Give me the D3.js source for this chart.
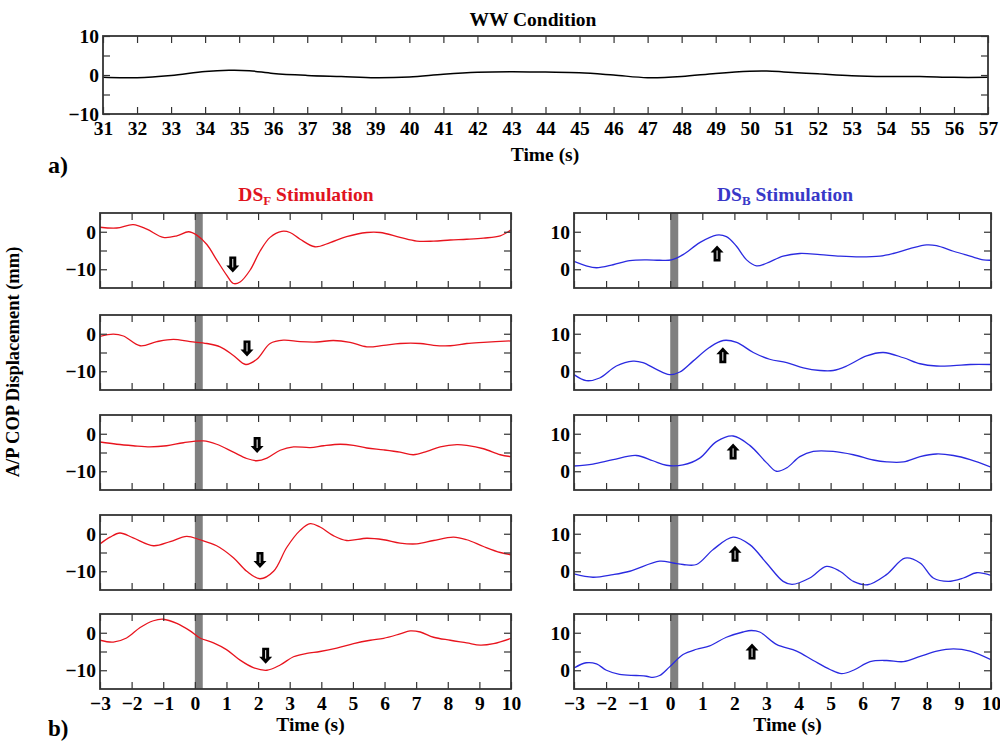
<!DOCTYPE html>
<html><head><meta charset="utf-8">
<script src="https://cdn.jsdelivr.net/npm/d3@7"></script>
<style>
body{margin:0;background:#fff;}
svg{display:block;font-family:"Liberation Serif","Times New Roman",serif;font-weight:bold;}
</style></head><body>
<svg id="c" width="1000" height="742"></svg>
<script>
// ---------- data ----------
const wwTicks = d3.range(31, 58);
const ww = [[31,-0.6],[31.5,-0.7],[32,-0.7],[33,-0.1],[34,0.9],[34.7,1.2],[35.3,1.1],[36,0.4],[37,-0.1],[38,-0.4],[39,-0.7],[40,-0.5],[41,0.2],[42,0.7],[43,0.85],[44,0.75],[45,0.6],[46,0.0],[47,-0.7],[48,-0.4],[49,0.4],[50,0.95],[50.5,1.0],[51,0.8],[52,0.3],[53,-0.2],[54,-0.4],[55,-0.4],[56,-0.6],[57,-0.6]];

const stimTicks = d3.range(-3, 11);
const dsfYTicks = [-10, -5, 0];
const dsfYLabels = [-10, 0];
const dsbYTicks = [0, 5, 10];
const dsbYLabels = [0, 10];

const dsf1 = [[-3,1.2],[-2.47,1.0],[-1.95,1.9],[-1.52,0.7],[-1.0,-1.5],[-0.57,-1.1],[-0.2,0.0],[0.06,-0.9],[0.38,-3.4],[0.69,-7.5],[1.0,-11.5],[1.22,-13.8],[1.43,-13.4],[1.75,-10.2],[2.06,-5.2],[2.38,-1.5],[2.75,0.1],[3.01,-0.2],[3.33,-2.0],[3.8,-4.0],[4.28,-2.9],[4.8,-1.3],[5.44,-0.2],[5.86,-0.2],[6.49,-1.5],[7.02,-2.5],[7.55,-2.5],[8.08,-2.2],[8.6,-2.0],[9.13,-1.7],[9.66,-1.1],[10,0.5]];
const dsf2 = [[-3,-0.7],[-2.58,-0.1],[-2.26,-0.6],[-1.73,-3.2],[-1.2,-2.1],[-0.68,-1.5],[-0.15,-2.1],[0.38,-2.6],[0.8,-3.5],[1.22,-5.8],[1.61,-8.2],[1.96,-6.8],[2.38,-2.6],[2.8,-1.7],[3.33,-2.1],[3.86,-2.2],[4.38,-1.8],[4.91,-2.3],[5.44,-3.5],[5.97,-3.1],[6.49,-2.6],[7.13,-2.6],[7.55,-3.1],[8.08,-3.2],[8.6,-2.6],[9.13,-2.3],[10,-1.9]];
const dsf3 = [[-3,-2.2],[-2.47,-2.8],[-1.95,-3.2],[-1.42,-3.5],[-0.89,-3.2],[-0.36,-2.4],[0.27,-1.9],[0.69,-2.8],[1.22,-4.9],[1.64,-6.6],[1.96,-7.2],[2.28,-6.5],[2.7,-4.4],[3.12,-3.5],[3.65,-3.7],[4.07,-3.2],[4.6,-2.8],[5.02,-3.1],[5.44,-3.8],[5.97,-4.3],[6.49,-4.9],[6.91,-5.6],[7.34,-4.7],[7.76,-3.5],[8.29,-2.9],[8.6,-3.1],[9.13,-4.0],[9.66,-5.6],[10,-6.1]];
const dsf4 = [[-3,-2.7],[-2.68,-0.9],[-2.37,0.2],[-1.95,-1.1],[-1.31,-3.2],[-0.78,-2.1],[-0.26,-0.7],[0.16,-1.6],[0.69,-3.2],[1.22,-6.4],[1.64,-10],[2.06,-12.0],[2.49,-10],[2.91,-3.6],[3.33,0.9],[3.65,2.7],[3.96,1.8],[4.38,-0.5],[4.8,-1.8],[5.44,-1.2],[5.97,-1.6],[6.49,-2.5],[7.02,-2.7],[7.55,-1.8],[8.18,-0.9],[8.6,-1.6],[9.13,-3.4],[9.66,-5.0],[10,-5.6]];
const dsf5 = [[-3,-2.0],[-2.58,-2.5],[-2.16,-1.4],[-1.73,1.4],[-1.31,3.2],[-1.0,3.6],[-0.57,2.5],[-0.15,0.5],[0.16,-1.4],[0.59,-2.7],[1.0,-4.5],[1.43,-7.3],[1.85,-9.3],[2.28,-10],[2.7,-8.6],[3.12,-6.4],[3.54,-5.5],[3.96,-5.0],[4.49,-4.1],[5.02,-2.9],[5.55,-2.0],[5.97,-1.5],[6.49,-0.3],[6.81,0.5],[7.13,0.2],[7.55,-1.2],[8.08,-2.0],[8.6,-2.7],[9.03,-3.3],[9.45,-2.9],[10,-1.5]];

const dsb1 = [[-3,2.1],[-2.62,0.9],[-2.3,0.4],[-1.78,1.2],[-1.26,2.3],[-0.74,2.5],[-0.33,2.4],[0.04,2.5],[0.4,3.9],[0.92,7.1],[1.44,9.1],[1.75,8.7],[2.06,6.2],[2.38,2.5],[2.69,0.9],[3.0,1.6],[3.52,3.5],[4.04,4.2],[4.67,3.9],[5.29,3.5],[5.91,3.3],[6.54,3.5],[6.95,4.2],[7.47,5.5],[7.99,6.5],[8.3,6.3],[8.83,4.8],[9.35,3.5],[9.76,2.5],[10,2.4]];
const dsb2 = [[-3,-0.9],[-2.62,-2.5],[-2.2,-1.8],[-1.68,1.4],[-1.16,2.7],[-0.85,2.3],[-0.43,0.5],[-0.02,-0.9],[0.3,-0.2],[0.71,2.7],[1.23,6.4],[1.65,8.2],[2.07,7.7],[2.59,5.0],[3.1,3.2],[3.63,2.3],[4.15,0.9],[4.67,0.2],[5.08,0.2],[5.5,1.4],[6.12,4.1],[6.64,5.0],[7.27,3.6],[7.79,2.0],[8.3,1.4],[8.83,1.5],[9.35,1.8],[10,1.8]];
const dsb3 = [[-3,1.4],[-2.41,1.9],[-1.78,3.1],[-1.06,4.2],[-0.54,2.8],[-0.12,1.6],[0.4,1.7],[0.92,3.5],[1.44,7.9],[1.96,9.4],[2.48,6.9],[3.0,2.3],[3.31,0.0],[3.63,0.9],[4.04,3.9],[4.46,5.3],[5.08,5.3],[5.71,4.4],[6.33,3.0],[6.75,2.5],[7.27,2.5],[7.79,3.9],[8.3,4.6],[8.83,4.2],[9.35,3.1],[10,1.1]];
const dsb4 = [[-3,-0.7],[-2.41,-1.6],[-1.78,-0.9],[-1.26,0.0],[-0.33,2.7],[0.09,2.2],[0.4,1.8],[0.82,1.8],[1.34,5.8],[1.96,9.1],[2.48,7.1],[3.0,2.2],[3.52,-2.7],[3.8,-3.5],[4.35,-1.8],[4.87,1.3],[5.29,0.0],[5.71,-2.7],[6.15,-3.6],[6.74,-0.9],[7.32,3.5],[7.79,2.2],[8.2,-1.8],[8.67,-2.7],[9.14,-1.8],[9.55,-0.4],[10,-1.1]];
const dsb5 = [[-3,0.6],[-2.62,2.0],[-2.3,1.7],[-1.99,0.0],[-1.58,-1.1],[-1.06,-1.4],[-0.74,-1.6],[-0.54,-1.9],[-0.33,-1.4],[-0.02,0.9],[0.4,4.2],[0.82,5.6],[1.23,6.5],[1.75,8.8],[2.27,10.2],[2.53,10.6],[2.79,10.2],[3.31,6.9],[3.94,5.1],[4.46,2.6],[4.98,0.2],[5.34,-0.9],[5.71,0.0],[6.23,2.3],[6.75,2.6],[7.27,2.3],[7.79,3.7],[8.31,5.1],[8.83,5.7],[9.35,5.1],[10,2.8]];

// arrow positions [time, value] (centre of arrow)
const dsfArrows = [[1.2,-8.7],[1.65,-3.9],[1.97,-3.0],[2.06,-7.0],[2.24,-6.1]];
const dsbArrows = [[1.46,4.2],[1.64,4.3],[1.96,5.3],[2.02,4.7],[2.55,5.0]];
const stimOnset = [0, 0.25];

// ---------- drawing ----------
const svg = d3.select("#c");
const FS = 19.5;
const frameCol = "#333";

function drawFrame(g, x, y, xTicks, yTicks, yLabels, showX) {
  const [x0, x1] = x.range();
  const [y1, y0] = y.range();
  const tl = 7;
  const bottom = g.append("g").attr("transform", `translate(0,${y1})`)
    .call(d3.axisBottom(x).tickValues(xTicks).tickSize(-tl).tickPadding(7)
      .tickFormat(showX ? d3.format("d") : () => ""));
  const top = g.append("g").attr("transform", `translate(0,${y0})`)
    .call(d3.axisTop(x).tickValues(xTicks).tickSize(-tl).tickFormat(() => ""));
  const left = g.append("g").attr("transform", `translate(${x0},0)`)
    .call(d3.axisLeft(y).tickValues(yTicks).tickSize(-tl).tickPadding(4)
      .tickFormat(d => yLabels.includes(d) ? d3.format("d")(d) : ""));
  const right = g.append("g").attr("transform", `translate(${x1},0)`)
    .call(d3.axisRight(y).tickValues(yTicks).tickSize(-tl).tickFormat(() => ""));
  [bottom, top, left, right].forEach(a => {
    a.select(".domain").remove();
    a.selectAll("line").attr("stroke", frameCol).attr("stroke-width", 1.2);
    a.selectAll("text").attr("font-size", FS).attr("font-family", "Liberation Serif").attr("font-weight", "bold").attr("fill", "#000");
  });
  g.append("rect").attr("x", x0).attr("y", y0).attr("width", x1 - x0).attr("height", y1 - y0)
    .attr("fill", "none").attr("stroke", frameCol).attr("stroke-width", 1.8);
}

let clipId = 0;
function drawLine(g, x, y, data, color, width) {
  const id = "clip" + (clipId++);
  const [x0, x1] = x.range();
  const [y1, y0] = y.range();
  g.append("clipPath").attr("id", id).append("rect")
    .attr("x", x0).attr("y", y0).attr("width", x1 - x0).attr("height", y1 - y0);
  const line = d3.line().x(d => x(d[0])).y(d => y(d[1])).curve(d3.curveCatmullRom.alpha(0.5));
  g.append("path").datum(data).attr("d", line).attr("fill", "none")
    .attr("stroke", color).attr("stroke-width", width).attr("clip-path", `url(#${id})`);
}

function drawArrow(g, cx, cy, up) {
  const s = up ? -1 : 1;
  const p = d3.path();
  p.moveTo(cx - 3.5, cy - 8 * s);
  p.lineTo(cx + 3.5, cy - 8 * s);
  p.lineTo(cx + 3.5, cy + 1 * s);
  p.lineTo(cx + 6.5, cy + 1 * s);
  p.lineTo(cx, cy + 8 * s);
  p.lineTo(cx - 6.5, cy + 1 * s);
  p.lineTo(cx - 3.5, cy + 1 * s);
  p.closePath();
  g.append("path").attr("d", p.toString()).attr("fill", "#000");
  g.append("line").attr("x1", cx).attr("x2", cx)
    .attr("y1", cy - 5.5 * s).attr("y2", cy + 3 * s)
    .attr("stroke", "#fff").attr("stroke-width", 1);
}

// ---- top panel (a) ----
{
  const g = svg.append("g");
  const x = d3.scaleLinear().domain([31, 57]).range([103, 988]);
  const y = d3.scaleLinear().domain([-10, 10]).range([114, 36]);
  drawLine(g, x, y, ww, "#000", 1.5);
  drawFrame(g, x, y, wwTicks, [-10, -5, 0, 5, 10], [-10, 0, 10], true);
  g.append("text").attr("x", 533).attr("y", 26).attr("text-anchor", "middle").attr("font-size", FS).text("WW Condition");
  g.append("text").attr("x", 545).attr("y", 161).attr("text-anchor", "middle").attr("font-size", FS).text("Time (s)");
  g.append("text").attr("x", 48).attr("y", 173).attr("font-size", 24).text("a)");
}

// ---- stimulation panels (b) ----
const panelTops = [213, 315, 415, 515, 614];
const panelH = 75;
const columns = [
  { series: [dsf1, dsf2, dsf3, dsf4, dsf5], arrows: dsfArrows, up: false, color: "#e8141e",
    range: [100, 511], domain: [-15, 5], yTicks: dsfYTicks, yLabels: dsfYLabels,
    title: ["DS", "F", " Stimulation"], titleColor: "#e0141e", titleX: 306 },
  { series: [dsb1, dsb2, dsb3, dsb4, dsb5], arrows: dsbArrows, up: true, color: "#2a2ae0",
    range: [574, 991], domain: [-5, 15], yTicks: dsbYTicks, yLabels: dsbYLabels,
    title: ["DS", "B", " Stimulation"], titleColor: "#3838c8", titleX: 785 }
];

columns.forEach(col => {
  const x = d3.scaleLinear().domain([-3, 10]).range(col.range);
  col.series.forEach((data, i) => {
    const g = svg.append("g");
    const top = panelTops[i];
    const y = d3.scaleLinear().domain(col.domain).range([top + panelH, top]);
    g.append("rect").attr("x", x(stimOnset[0])).attr("y", top)
      .attr("width", x(stimOnset[1]) - x(stimOnset[0])).attr("height", panelH)
      .attr("fill", "#808080");
    drawLine(g, x, y, data, col.color, 1.3);
    drawFrame(g, x, y, stimTicks, col.yTicks, col.yLabels, i === 4);
    const a = col.arrows[i];
    drawArrow(g, x(a[0]), y(a[1]), col.up);
  });
  const t = svg.append("text").attr("x", col.titleX).attr("y", 201).attr("text-anchor", "middle")
    .attr("font-size", FS).attr("fill", col.titleColor);
  t.append("tspan").text(col.title[0]);
  t.append("tspan").attr("font-size", 13).attr("dy", 4).text(col.title[1]);
  t.append("tspan").attr("dy", -4).text(col.title[2]);
  svg.append("text").attr("x", (col.range[0] + col.range[1]) / 2 + 5).attr("y", 731)
    .attr("text-anchor", "middle").attr("font-size", FS).text("Time (s)");
});

svg.append("text").attr("transform", "translate(19,362) rotate(-90)")
  .attr("text-anchor", "middle").attr("font-size", 18.5).text("A/P COP Displacement (mm)");
svg.append("text").attr("x", 48).attr("y", 736).attr("font-size", 23).text("b)");
</script>
</body></html>
